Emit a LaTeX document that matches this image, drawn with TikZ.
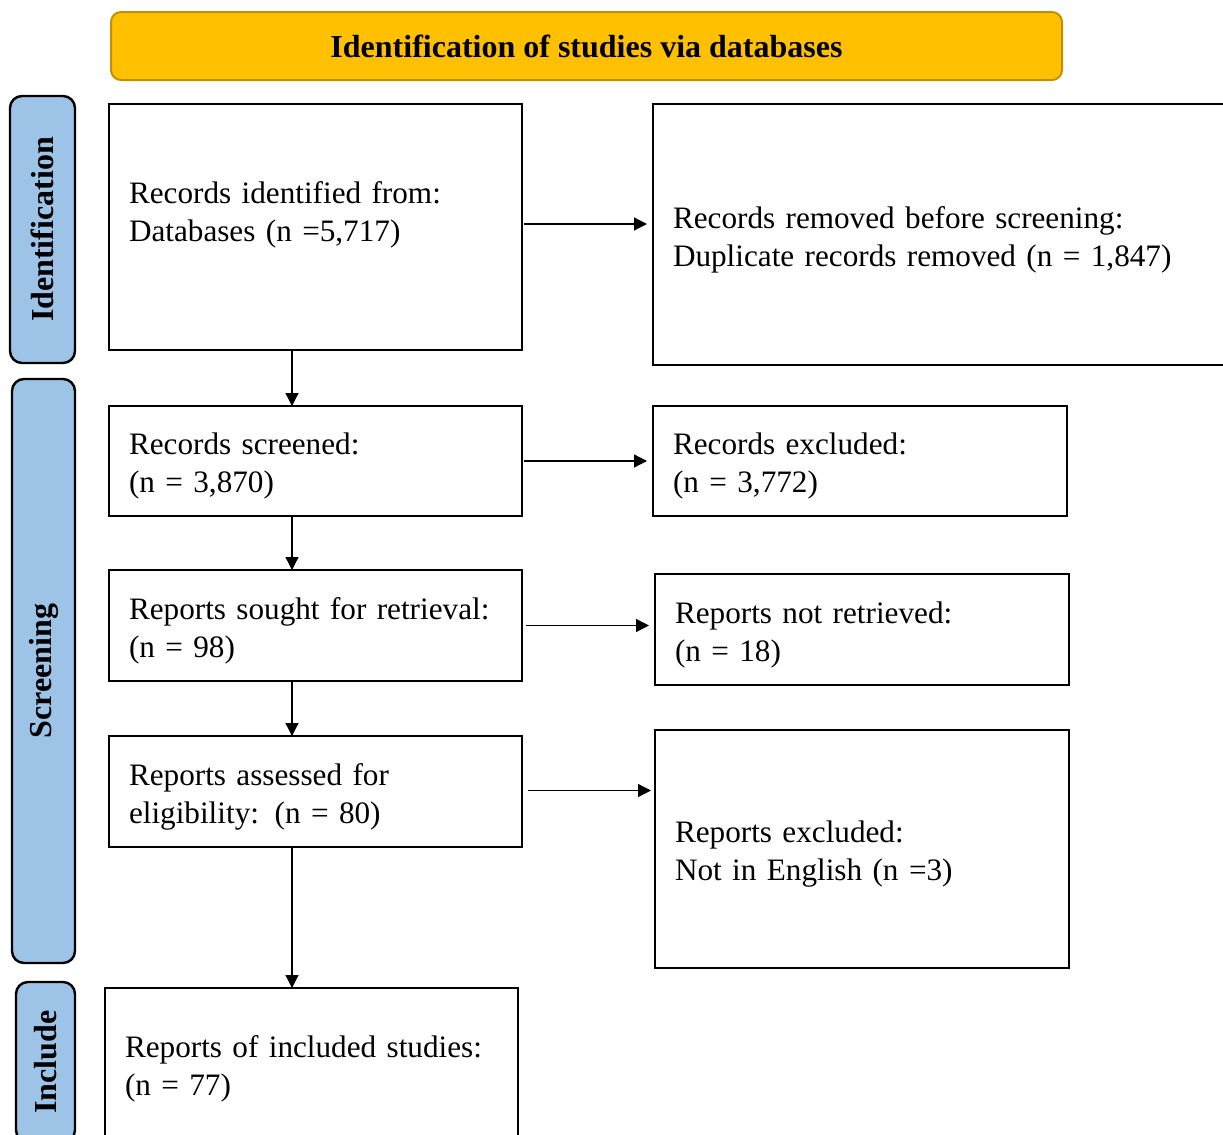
\documentclass[tikz,border=0pt]{standalone}
\usepackage{fontspec}
\setmainfont{Liberation Serif}
\usetikzlibrary{arrows.meta}

\definecolor{bannergold}{HTML}{FFC000}
\definecolor{bannerrim}{HTML}{BF9000}
\definecolor{phaseblue}{HTML}{9DC3E6}

\tikzset{
    prismabox/.style={draw, line width=1.2pt, anchor=north west, outer sep=0pt,
        inner xsep=10pt, align=left, text height=16pt, font=\fontsize{15.6}{19}\selectfont},
    leftbox/.style={prismabox, text width=186.5pt},
    rightbox/.style={prismabox, text width=187pt},
    phase/.style={draw, line width=1.2pt, fill=phaseblue, rounded corners=6pt,
        rotate=90, outer sep=0pt, font=\fontsize{16}{19}\selectfont\bfseries},
    banner/.style={draw=bannerrim, line width=1pt, fill=bannergold, rounded corners=5pt,
        minimum width=475.5pt, minimum height=34pt, font=\fontsize{16}{19}\selectfont\bfseries},
    flow/.style={line width=0.65pt, -{Triangle[length=6.5pt,width=6.5pt]}},
}

\begin{document}
\begin{tikzpicture}[x=0.5pt, y=-0.5pt]
    \clip (0,0) rectangle (1223,1135);

    \node[banner] (head) at (586.5,46) {Identification of studies via databases};

    \node[phase, minimum width=133.5pt, minimum height=32.5pt] (pident) at (42.5,229.5) {Identification};
    \node[phase, minimum width=292pt, minimum height=31.5pt] (pscreen) at (43.5,671) {Screening};
    \node[phase, minimum width=80pt, minimum height=29.5pt] (pinclude) at (45.5,1062) {Include};

    \node[leftbox, minimum height=123pt, text depth=40pt] (ident) at (109,104)
        {Records identified from:\\Databases (n =5,717)};
    \node[prismabox, text width=280pt, minimum height=130.5pt] (removed) at (653,104)
        {Records removed before screening:\\Duplicate records removed (n = 1,847)};

    \node[leftbox, minimum height=55pt] (screened) at (109,406) {Records screened:\\(n = 3,870)};
    \node[rightbox, minimum height=55pt] (excluded) at (653,406) {Records excluded:\\(n = 3,772)};

    \node[leftbox, minimum height=55.5pt] (sought) at (109,570) {Reports sought for retrieval:\\(n = 98)};
    \node[rightbox, minimum height=55.5pt] (notretr) at (655,574) {Reports not retrieved:\\(n = 18)};

    \node[leftbox, minimum height=55.5pt] (assessed) at (109,736) {Reports assessed for\\eligibility: (n = 80)};
    \node[rightbox, minimum height=119pt] (repexcl) at (655,730) {Reports excluded:\\Not in English (n =3)};

    \node[leftbox, minimum height=76pt] (included) at (105,988) {Reports of included studies:\\(n = 77)};

    \coordinate (spine) at (292,0);

    \draw[flow] (ident.south -| spine) -- (screened.north -| spine);
    \draw[flow] (screened.south -| spine) -- (sought.north -| spine);
    \draw[flow] (sought.south -| spine) -- (assessed.north -| spine);
    \draw[flow] (assessed.south -| spine) -- (included.north -| spine);

    \draw[flow, shorten <=1pt, shorten >=3pt] ([yshift=1.5pt]ident.east) -- ([yshift=1.5pt]ident.east -| removed.west);
    \draw[flow, shorten <=1pt, shorten >=3pt] (screened.east) -- (screened.east -| excluded.west);
    \draw[flow, shorten <=2pt, shorten >=3pt] (sought.east) -- (sought.east -| notretr.west);
    \draw[flow, shorten <=3pt, shorten >=2pt] ([yshift=0.5pt]assessed.east) -- ([yshift=0.5pt]assessed.east -| repexcl.west);
\end{tikzpicture}
\end{document}
